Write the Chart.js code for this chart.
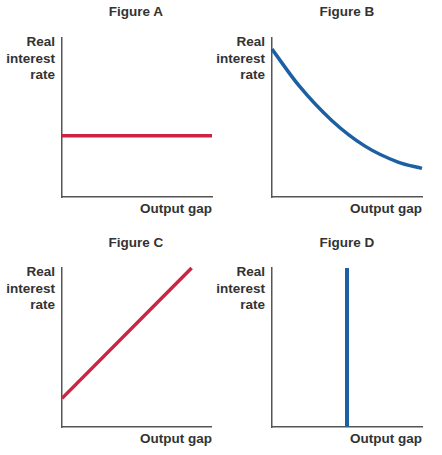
<!DOCTYPE html>
<html>
<head>
<meta charset="utf-8">
<script src="https://cdn.jsdelivr.net/npm/chart.js"></script>
<style>
  html, body { margin: 0; padding: 0; background: #fff; }
  body { width: 442px; height: 455px; position: relative; overflow: hidden;
         font-family: "Liberation Sans", Arial, sans-serif; font-weight: bold; font-size: 13.5px; color: #333; }
  canvas { position: absolute; }
  .t { position: absolute; white-space: nowrap; line-height: 16px; }
  .ttl { text-align: center; width: 100px; }
  .yl { text-align: right; width: 60px; line-height: 16.5px; }
  .xl { text-align: right; width: 90px; }
</style>
</head>
<body>

<div class="t ttl" style="left:86px; top:4px;">Figure A</div>
<div class="t ttl" style="left:297px; top:4px;">Figure B</div>
<div class="t ttl" style="left:86px; top:235px;">Figure C</div>
<div class="t ttl" style="left:297px; top:235px;">Figure D</div>

<div class="t yl" style="left:-5px; top:34px;">Real<br>interest<br>rate</div>
<div class="t yl" style="left:205px; top:34px;">Real<br>interest<br>rate</div>
<div class="t yl" style="left:-5px; top:264px;">Real<br>interest<br>rate</div>
<div class="t yl" style="left:205px; top:264px;">Real<br>interest<br>rate</div>

<div class="t xl" style="left:122px; top:201px;">Output gap</div>
<div class="t xl" style="left:332px; top:201px;">Output gap</div>
<div class="t xl" style="left:122px; top:431px;">Output gap</div>
<div class="t xl" style="left:332px; top:431px;">Output gap</div>

<canvas id="chartA"></canvas>
<canvas id="chartB"></canvas>
<canvas id="chartC"></canvas>
<canvas id="chartD"></canvas>

<script>
// curve data, axes run 0..10 on both sides
var figA_x = [0, 10];
var figA_y = [3.85, 3.85];

var figB_x = [0, 1.8, 4.0, 6.2, 8.4, 10];
var figB_y = [9.3, 7.0, 4.8, 3.2, 2.2, 1.8];

var figC_x = [0, 8.7];
var figC_y = [1.8, 10];

var figD_x = [5, 5];
var figD_y = [0, 10];

var RED = '#cc2443';
var BLUE = '#1c5fa3';
var PAD = 6;

function pts(xs, ys) {
  return xs.map(function (x, i) { return { x: x, y: ys[i] }; });
}

function makeChart(id, area, xs, ys, color, width) {
  var cv = document.getElementById(id);
  var w = area.right - area.left + PAD * 2;
  var h = area.bottom - area.top + PAD * 2;
  cv.width = w; cv.height = h;
  cv.style.left = (area.left - PAD) + 'px';
  cv.style.top = (area.top - PAD) + 'px';
  cv.style.width = w + 'px';
  cv.style.height = h + 'px';

  var axis = function (pos) {
    return {
      type: 'linear', position: pos, min: 0, max: 10,
      ticks: { display: false },
      grid: { display: false, drawTicks: false },
      border: { display: true, color: '#555', width: 1.5 },
      afterFit: function (s) { if (pos === 'left') s.width = 0; else s.height = 0; }
    };
  };

  return new Chart(cv, {
    type: 'line',
    data: {
      datasets: [{
        data: pts(xs, ys),
        borderColor: color,
        borderWidth: width,
        pointRadius: 0,
        cubicInterpolationMode: 'monotone',
        clip: false,
        fill: false
      }]
    },
    options: {
      responsive: false,
      animation: false,
      devicePixelRatio: 1,
      layout: { padding: PAD },
      plugins: { legend: { display: false }, tooltip: { enabled: false }, title: { display: false } },
      scales: { x: axis('bottom'), y: axis('left') }
    }
  });
}

makeChart('chartA', { left: 62, top: 38, right: 212, bottom: 197 }, figA_x, figA_y, RED, 3.5);
makeChart('chartB', { left: 272, top: 38, right: 422, bottom: 197 }, figB_x, figB_y, BLUE, 3.5);
makeChart('chartC', { left: 62, top: 268, right: 211, bottom: 427 }, figC_x, figC_y, RED, 3.5);
makeChart('chartD', { left: 272, top: 268, right: 422, bottom: 427 }, figD_x, figD_y, BLUE, 4);
</script>
</body>
</html>
